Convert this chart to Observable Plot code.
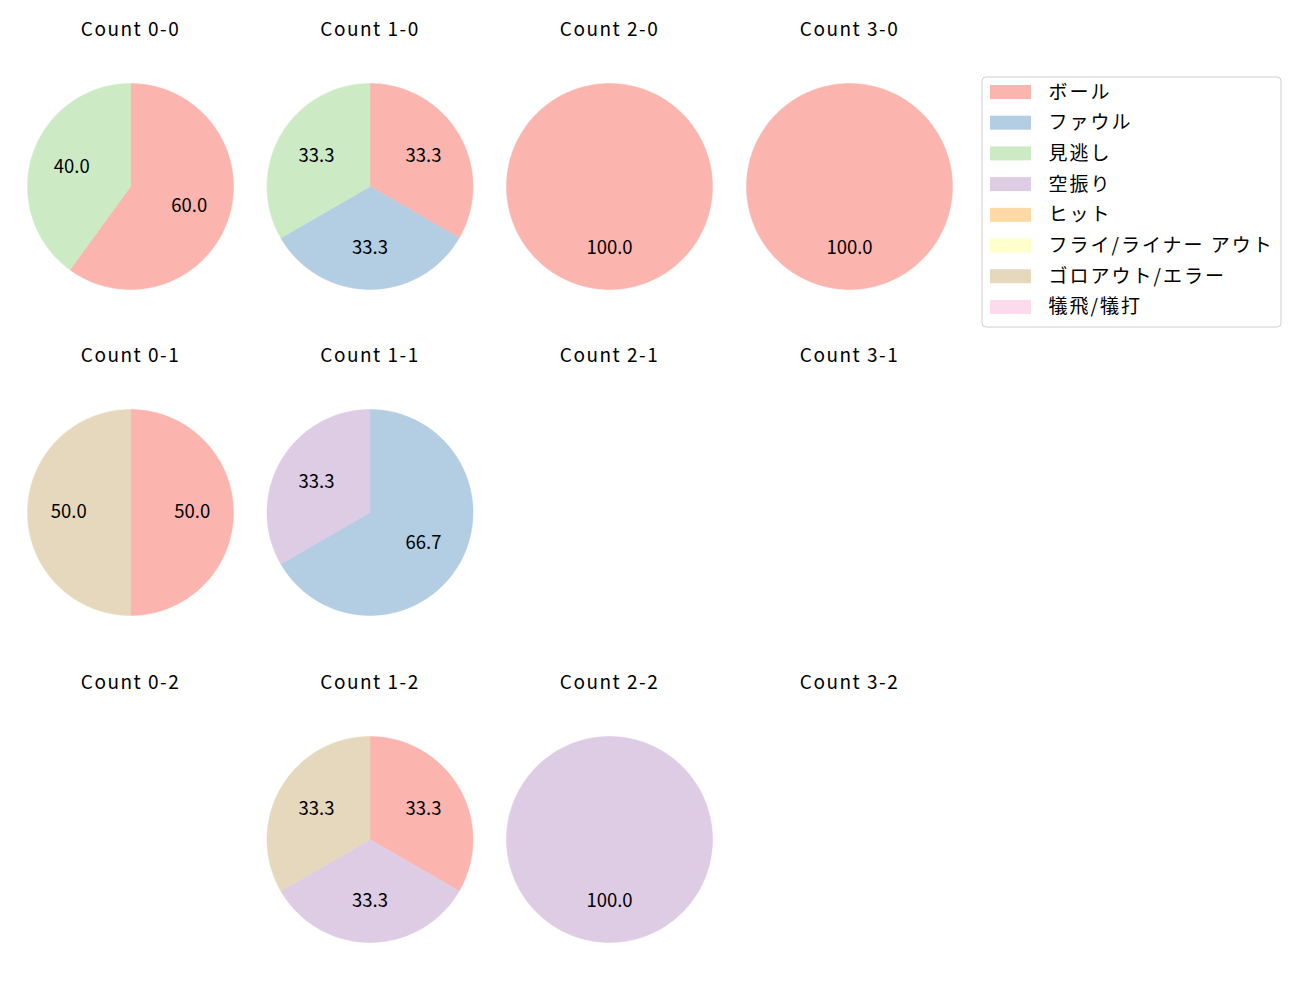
<!DOCTYPE html>
<html>
<head>
<meta charset="utf-8">
<script src="https://cdn.jsdelivr.net/npm/d3@7"></script>
<script src="https://cdn.jsdelivr.net/npm/@observablehq/plot@0.6"></script>
<style>
  body { margin: 0; background: #fff; }
  svg { font-family: "Noto Sans CJK JP", "Noto Sans", sans-serif; }
</style>
</head>
<body>
<div id="chart"></div>
<script>
// ---- data ----
const categories = ["ボール", "ファウル", "見逃し", "空振り", "ヒット", "フライ/ライナー アウト", "ゴロアウト/エラー", "犠飛/犠打"];
const colors = ["#fbb4ae", "#b3cde3", "#ccebc5", "#decbe4", "#fed9a6", "#ffffcc", "#e5d8bd", "#fddaec"];
const counts = ["0-0", "1-0", "2-0", "3-0", "0-1", "1-1", "2-1", "3-1", "0-2", "1-2", "2-2", "3-2"];
// pitch outcome counts per category, in category order
const values00 = [3, 0, 2, 0, 0, 0, 0, 0];
const values10 = [1, 1, 1, 0, 0, 0, 0, 0];
const values20 = [1, 0, 0, 0, 0, 0, 0, 0];
const values30 = [1, 0, 0, 0, 0, 0, 0, 0];
const values01 = [1, 0, 0, 0, 0, 0, 1, 0];
const values11 = [0, 2, 0, 1, 0, 0, 0, 0];
const values21 = [0, 0, 0, 0, 0, 0, 0, 0];
const values31 = [0, 0, 0, 0, 0, 0, 0, 0];
const values02 = [0, 0, 0, 0, 0, 0, 0, 0];
const values12 = [1, 0, 0, 1, 0, 0, 1, 0];
const values22 = [0, 0, 0, 1, 0, 0, 0, 0];
const values32 = [0, 0, 0, 0, 0, 0, 0, 0];
const seriesValues = [values00, values10, values20, values30, values01, values11, values21, values31, values02, values12, values22, values32];

// ---- layout ----
const colX = [130, 369.5, 609, 849];
const rowY = [186, 512, 839];
const R = 103;
const titleOffset = 157;

const polys = [];
const labels = [];
const titles = [];
counts.forEach((c, k) => {
  const col = k % 4, row = Math.floor(k / 4);
  const cx = colX[col], cy = rowY[row];
  titles.push({text: "Count " + c, x: cx, y: cy - titleOffset});
  const vals = seriesValues[k];
  const total = d3.sum(vals);
  if (total === 0) return;
  let a = Math.PI / 2; // start at top, go clockwise
  vals.forEach((v, ci) => {
    if (v === 0) return;
    const frac = v / total;
    const a0 = a, a1 = a - frac * 2 * Math.PI;
    const key = c + "|" + ci;
    const n = Math.max(2, Math.ceil(frac * 360));
    if (frac < 1) polys.push({key, cat: categories[ci], x: cx, y: cy});
    for (let i = 0; i <= n; i++) {
      const t = a0 + (a1 - a0) * i / n;
      polys.push({key, cat: categories[ci], x: cx + R * Math.cos(t), y: cy - R * Math.sin(t)});
    }
    if (frac < 1) polys.push({key, cat: categories[ci], x: cx, y: cy});
    const m = (a0 + a1) / 2;
    labels.push({text: (frac * 100).toFixed(1), x: cx + 0.6 * R * Math.cos(m), y: cy - 0.6 * R * Math.sin(m)});
    a = a1;
  });
});

const legendRows = categories.map((c, i) => ({cat: c, y: 92 + i * 30.7}));

const chart = Plot.plot({
  width: 1300,
  height: 1000,
  margin: 0,
  x: {domain: [0, 1300], range: [0, 1300], axis: null},
  y: {domain: [0, 1000], range: [0, 1000], axis: null},
  color: {type: "ordinal", domain: categories, range: colors},
  style: {fontFamily: '"Noto Sans CJK JP", "Noto Sans", sans-serif', background: "white"},
  marks: [
    Plot.line(polys, {x: "x", y: "y", z: "key", fill: "cat", stroke: "cat", strokeWidth: 0.5, curve: "linear"}),
    Plot.text(labels, {x: "x", y: "y", text: "text", fontSize: 18.5, fill: "black"}),
    Plot.text(titles, {x: "x", y: "y", text: "text", fontSize: 19, fill: "black", style: "letter-spacing:1.5px"}),
    Plot.rect([0], {x1: () => 982, x2: () => 1281, y1: () => 77, y2: () => 327, rx: 4, fill: "white", stroke: "#d0d0d0", strokeWidth: 1}),
    Plot.rect(legendRows, {x1: () => 990, x2: () => 1031, y1: d => d.y - 7, y2: d => d.y + 7, fill: "cat"}),
    Plot.text(legendRows, {x: () => 1048, y: "y", text: "cat", textAnchor: "start", fontSize: 19, fill: "black"})
  ]
});
// widen text spacing to match the reference face
chart.querySelectorAll("text").forEach(t => {
  const s = t.textContent;
  if (s.startsWith("Count")) t.setAttribute("letter-spacing", "1.5");
  else if (categories.includes(s)) t.setAttribute("letter-spacing", "2");
});
document.getElementById("chart").appendChild(chart);
</script>
</body>
</html>
